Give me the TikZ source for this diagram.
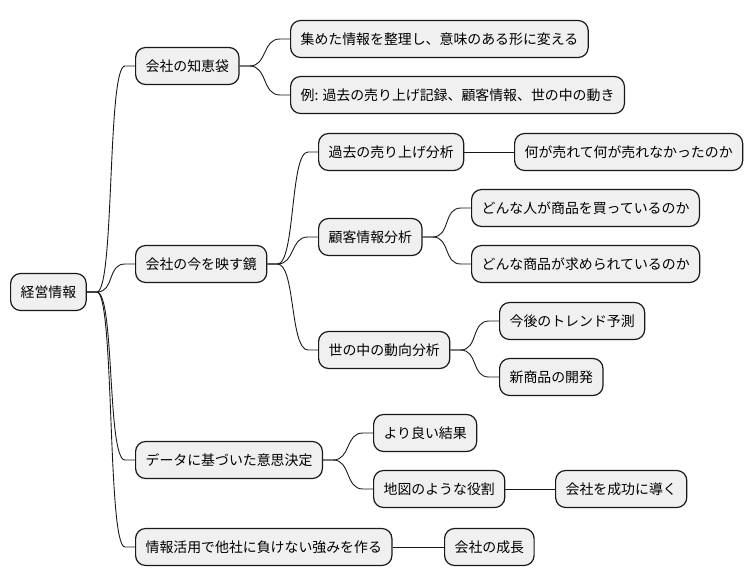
\documentclass[tikz,border=0pt]{standalone}
\usepackage{fontspec}
\setmainfont{Noto Sans CJK JP}
\begin{document}
\begin{tikzpicture}[x=1pt,y=-1pt,
  box/.style={draw=black!90,fill=black!6,line width=1.2pt,rounded corners=10pt,
    minimum height=37pt,inner xsep=10pt,inner ysep=0pt,anchor=west,
    font=\fontsize{13.9}{16}\selectfont},
  edge/.style={draw=black!90,line width=0.9pt}]
\useasboundingbox (0,0) rectangle (754,583);
\newcommand\mmconn[2]{\draw[edge] (#1.east) -- ++(10,0) .. controls +(18,0) and +(-18,0) .. ([xshift=-10pt]#2.west) -- (#2.west);}
\newcommand\mmline[2]{\draw[edge] (#1.east) -- (#2.west);}
\node[box] (root) at (10,292) {経営情報};
\node[box] (a) at (135,66) {会社の知恵袋};
\node[box] (a1) at (290,39) {集めた情報を整理し、意味のある形に変える};
\node[box] (a2) at (290,95) {例: 過去の売り上げ記録、顧客情報、世の中の動き};
\node[box] (b) at (135,264) {会社の今を映す鏡};
\node[box] (b1) at (318,152) {過去の売り上げ分析};
\node[box] (b11) at (514,152) {何が売れて何が売れなかったのか};
\node[box] (b2) at (318,237) {顧客情報分析};
\node[box] (b21) at (471,208) {どんな人が商品を買っているのか};
\node[box] (b22) at (471,264) {どんな商品が求められているのか};
\node[box] (b3) at (318,350) {世の中の動向分析};
\node[box] (b31) at (499,321) {今後のトレンド予測};
\node[box] (b32) at (499,377) {新商品の開発};
\node[box] (c) at (135,460) {データに基づいた意思決定};
\node[box] (c1) at (373,433) {より良い結果};
\node[box] (c2) at (373,489) {地図のような役割};
\node[box] (c21) at (555,489) {会社を成功に導く};
\node[box] (d) at (135,547) {情報活用で他社に負けない強みを作る};
\node[box] (d1) at (444,547) {会社の成長};
\mmconn{root}{a}
\mmconn{root}{b}
\mmconn{root}{c}
\mmconn{root}{d}
\mmconn{a}{a1}
\mmconn{a}{a2}
\mmconn{b}{b1}
\mmconn{b}{b2}
\mmconn{b}{b3}
\mmline{b1}{b11}
\mmconn{b2}{b21}
\mmconn{b2}{b22}
\mmconn{b3}{b31}
\mmconn{b3}{b32}
\mmconn{c}{c1}
\mmconn{c}{c2}
\mmline{c2}{c21}
\mmline{d}{d1}
\end{tikzpicture}
\end{document}
